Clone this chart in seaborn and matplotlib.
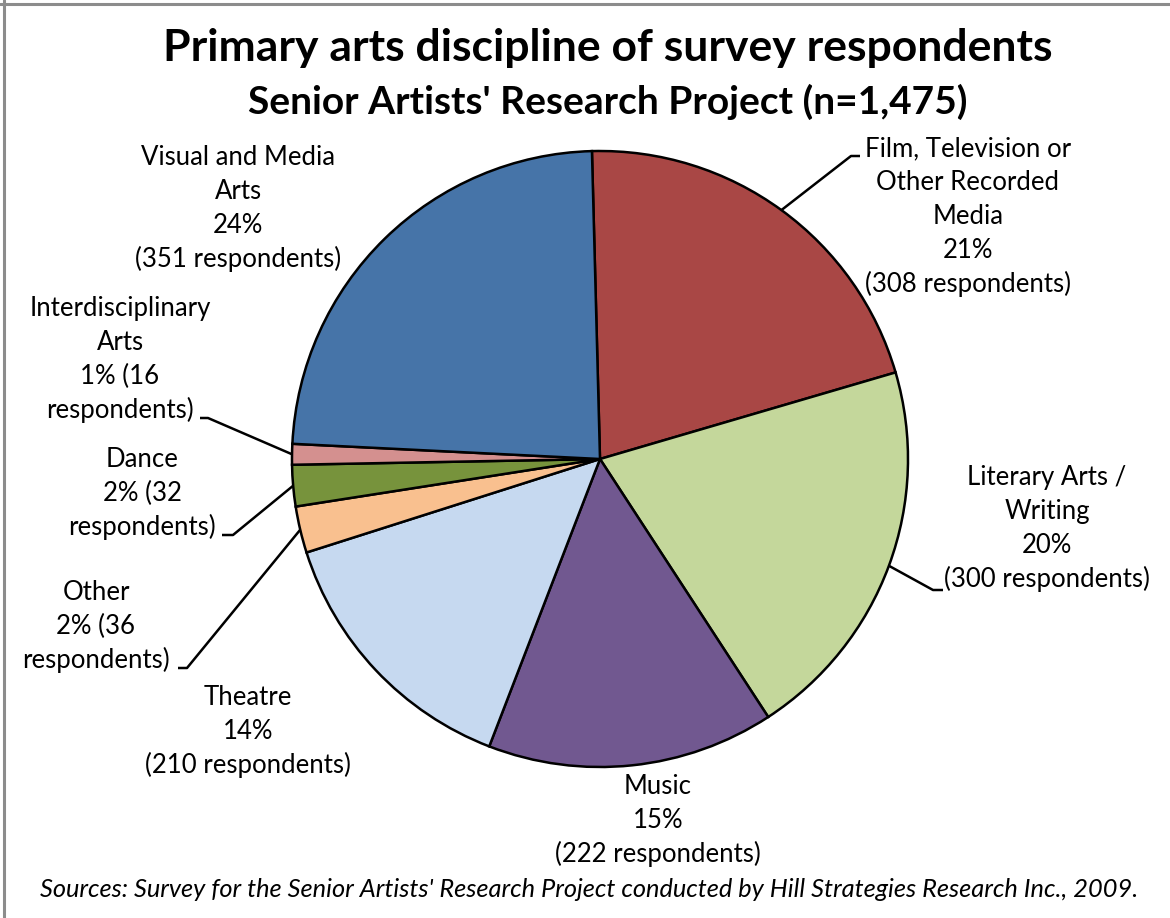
import math
import matplotlib
matplotlib.use("Agg")
import matplotlib.pyplot as plt
from matplotlib.lines import Line2D
import seaborn as sns

# ---- data -------------------------------------------------------------
categories = [
    "Film, Television or\nOther Recorded\nMedia",
    "Literary Arts /\nWriting",
    "Music",
    "Theatre",
    "Other",
    "Dance",
    "Interdisciplinary\nArts",
    "Visual and Media\nArts",
]
respondents = [308, 300, 222, 210, 36, 32, 16, 351]
slice_colors = ["#A94745", "#C4D79B", "#715890", "#C6D9F0",
                "#F9C08F", "#77933C", "#D4908F", "#4674A8"]
# how the percentage / count lines wrap in each label
wrap_style = ["wide", "wide", "wide", "wide", "narrow", "narrow", "narrow", "wide"]

title_main = "Primary arts discipline of survey respondents"
title_sub = "Senior Artists' Research Project (n=1,475)"
source_note = ("Sources: Survey for the Senior Artists' Research Project "
               "conducted by Hill Strategies Research Inc., 2009.")

# ---- layout (figure pixels, y measured from the top) ------------------
W, H = 1170, 918
CX, CY, R = 600, 459, 308
LINE_STEP = 34
# label block centres
label_pos = [(968, 216), (1047, 528), (658, 820), (248, 731),
             (96, 626), (142, 493), (120, 359), (238, 208)]
# leader lines: elbow point and short horizontal end (None = no leader)
leaders = [((851, 156), (860, 156)), ((933, 590), (943, 590)), None, None,
           ((187, 668), (178, 668)), ((233, 535), (222, 535)),
           ((208, 418), (200, 418)), None]

sns.set_theme(style="white")
plt.rcParams["font.family"] = ["Lato", "DejaVu Sans"]


def fy(py):
    """Convert a top-down pixel row into the upward data axis."""
    return H - py


fig = plt.figure(figsize=(W / 100, H / 100), dpi=100)
ax = fig.add_axes([0, 0, 1, 1])

wedges, _ = ax.pie(
    respondents,
    colors=slice_colors,
    startangle=91.5,
    counterclock=False,
    center=(CX, fy(CY)),
    radius=R,
    wedgeprops=dict(edgecolor="black", linewidth=1.8),
    frame=True,
)
ax.set_xlim(0, W)
ax.set_ylim(0, H)
ax.set_aspect("equal")
ax.axis("off")

total = sum(respondents)
for i, (cat, n) in enumerate(zip(categories, respondents)):
    pct = round(100 * n / total)
    lines = cat.split("\n")
    if wrap_style[i] == "wide":
        lines += [f"{pct}%", f"({n} respondents)"]
    else:
        lines += [f"{pct}% ({n}", "respondents)"]
    bx, by = label_pos[i]
    top = by - (len(lines) - 1) * LINE_STEP / 2
    for k, line in enumerate(lines):
        ax.text(bx, fy(top + k * LINE_STEP + 8), line, ha="center",
                va="baseline", fontsize=18.5, color="black")

    if leaders[i] is not None:
        w = wedges[i]
        ang = math.radians((w.theta1 + w.theta2) / 2)
        sx = w.center[0] + w.r * math.cos(ang)
        sy = w.center[1] + w.r * math.sin(ang)
        (ex, ey), (hx, hy) = leaders[i]
        ax.plot([sx, ex, hx], [sy, fy(ey), fy(hy)], color="black",
                linewidth=1.8, solid_capstyle="butt")

ax.text(608, fy(61), title_main, ha="center", va="baseline",
        fontsize=32, fontweight="bold", color="black")
ax.text(608, fy(114), title_sub, ha="center", va="baseline",
        fontsize=28, fontweight="bold", color="black")
ax.text(589, fy(897), source_note, ha="center", va="baseline",
        fontsize=18.3, fontstyle="italic", color="black")

# outer frame
fig.add_artist(Line2D([4, 4], [0, H], transform=None, color="#8C8C8C", linewidth=2.2))
fig.add_artist(Line2D([0, W], [H - 4, H - 4], transform=None, color="#8C8C8C", linewidth=2.2))

fig.savefig("out.png", dpi=100)
